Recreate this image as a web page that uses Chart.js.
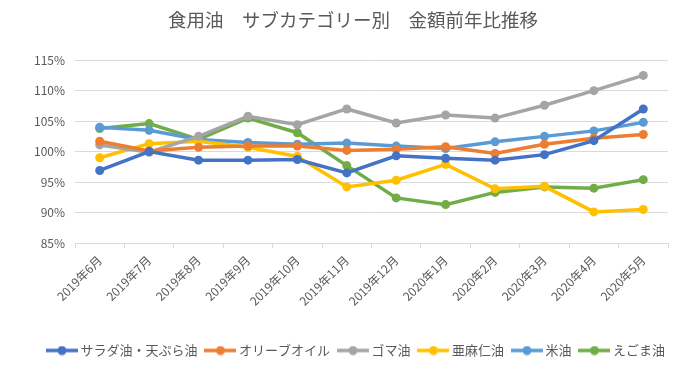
<!DOCTYPE html>
<html>
<head>
<meta charset="utf-8">
<script src="https://cdn.jsdelivr.net/npm/chart.js@4"></script>
<style>
  html, body { margin: 0; padding: 0; background: #fff; }
  #wrap { width: 680px; height: 371px; }
</style>
</head>
<body>
<div id="wrap"><canvas id="c"></canvas></div>
<script>
const months = ["2019年6月", "2019年7月", "2019年8月", "2019年9月", "2019年10月", "2019年11月",
  "2019年12月", "2020年1月", "2020年2月", "2020年3月", "2020年4月", "2020年5月"];

const saladTempura = [96.9, 100.0, 98.6, 98.6, 98.7, 96.5, 99.3, 98.9, 98.6, 99.5, 101.8, 107.0];
const olive = [101.7, 100.1, 100.7, 100.9, 100.9, 100.2, 100.4, 100.8, 99.7, 101.2, 102.2, 102.8];
const sesame = [101.1, 99.9, 102.5, 105.8, 104.4, 107.0, 104.7, 106.0, 105.5, 107.6, 110.0, 112.5];
const linseed = [99.0, 101.3, 101.7, 100.7, 99.2, 94.2, 95.3, 97.9, 93.9, 94.3, 90.1, 90.5];
const riceOil = [104.0, 103.5, 102.0, 101.5, 101.2, 101.4, 100.9, 100.5, 101.6, 102.5, 103.4, 104.8];
const egoma = [103.8, 104.6, 102.0, 105.5, 103.1, 97.7, 92.4, 91.3, 93.3, 94.2, 94.0, 95.4];

const seriesNames = ["サラダ油・天ぷら油", "オリーブオイル", "ゴマ油", "亜麻仁油", "米油", "えごま油"];
const seriesData = [saladTempura, olive, sesame, linseed, riceOil, egoma];
const colors = ["#4472C4", "#ED7D31", "#A5A5A5", "#FFC000", "#5B9BD5", "#70AD47"];

const FONT = "'Noto Sans CJK JP', 'Noto Sans', sans-serif";

// small line+dot swatch for the legend
function swatch(color) {
  const cv = document.createElement("canvas");
  cv.width = 32; cv.height = 10;
  const g = cv.getContext("2d");
  g.strokeStyle = color; g.lineWidth = 3.5;
  g.beginPath(); g.moveTo(0, 5); g.lineTo(32, 5); g.stroke();
  g.fillStyle = color;
  g.beginPath(); g.arc(16, 5, 4.5, 0, Math.PI * 2); g.fill();
  return cv;
}

const datasets = seriesNames.map((name, i) => ({
  label: name,
  data: seriesData[i],
  borderColor: colors[i],
  backgroundColor: colors[i],
  borderWidth: 3.5,
  pointRadius: 4.5,
  pointHoverRadius: 4.5,
  pointBorderWidth: 0,
  tension: 0
}));

new Chart(document.getElementById("c"), {
  type: "line",
  data: { labels: months, datasets },
  options: {
    responsive: true,
    maintainAspectRatio: false,
    animation: false,
    layout: { padding: { left: 30, right: 4, top: 4, bottom: 4 } },
    plugins: {
      title: {
        display: true,
        text: "食用油　サブカテゴリー別　金額前年比推移",
        color: "#595959",
        font: { family: FONT, size: 18.5, weight: "normal" },
        padding: { top: 5, bottom: 29 }
      },
      legend: {
        position: "bottom",
        align: "end",
        labels: {
          color: "#595959",
          font: { family: FONT, size: 13 },
          usePointStyle: true,
          pointStyleWidth: 24,
          boxHeight: 10,
          padding: 11,
          generateLabels: chart => chart.data.datasets.map((d, i) => ({
            text: d.label,
            fillStyle: d.borderColor,
            strokeStyle: d.borderColor,
            fontColor: "#595959",
            pointStyle: swatch(d.borderColor),
            datasetIndex: i,
            hidden: false
          }))
        }
      },
      tooltip: { enabled: false }
    },
    scales: {
      x: {
        offset: true,
        grid: { offset: true, drawOnChartArea: false, drawTicks: true, tickLength: 5, color: "#d9d9d9" },
        border: { color: "#d9d9d9" },
        ticks: { color: "#595959", font: { family: FONT, size: 12 }, minRotation: 45, maxRotation: 45, padding: 5 },
        afterFit: s => { s.height = 90; }
      },
      y: {
        min: 85,
        max: 115,
        grid: { color: "#d9d9d9", drawTicks: false },
        border: { display: false },
        ticks: {
          stepSize: 5,
          padding: 10,
          color: "#595959",
          font: { family: FONT, size: 12 },
          callback: v => v + "%"
        },
        afterFit: s => { s.width = 45; }
      },
      // empty right gutter so the plot ends where the original does
      gutter: {
        type: "linear",
        position: "right",
        grid: { display: false },
        border: { display: false },
        ticks: { display: false },
        afterFit: s => { s.width = 8; }
      }
    }
  }
});
</script>
</body>
</html>
